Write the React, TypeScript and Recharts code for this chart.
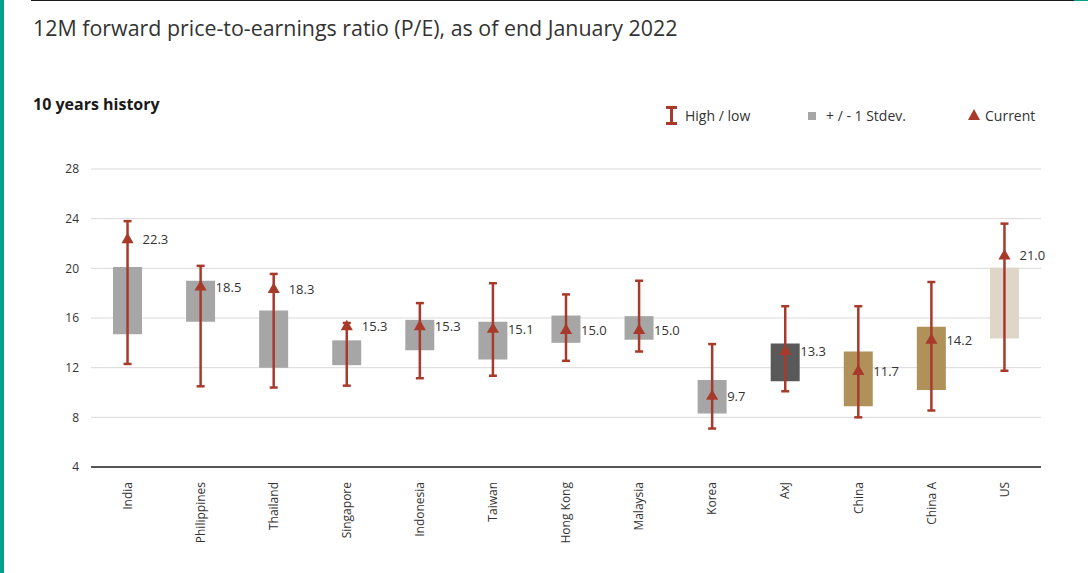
import React from 'react';
import {
  ComposedChart, Bar, Scatter, XAxis, YAxis, CartesianGrid, ErrorBar, Cell, LabelList,
} from 'recharts';

const categories = ['India', 'Philippines', 'Thailand', 'Singapore', 'Indonesia', 'Taiwan', 'Hong Kong', 'Malaysia', 'Korea', 'AxJ', 'China', 'China A', 'US'];
const highValues = [23.8, 20.2, 19.55, 15.6, 17.2, 18.8, 17.9, 19.0, 13.9, 16.95, 16.95, 18.9, 23.6];
const lowValues = [12.3, 10.5, 10.4, 10.55, 11.15, 11.35, 12.55, 13.3, 7.1, 10.1, 8.0, 8.55, 11.75];
const stdevUpper = [20.1, 19.0, 16.6, 14.2, 15.85, 15.7, 16.2, 16.15, 11.0, 13.95, 13.3, 15.3, 20.05];
const stdevLower = [14.7, 15.7, 12.0, 12.2, 13.4, 12.65, 14.0, 14.25, 8.3, 10.9, 8.9, 10.2, 14.35];
const currentValues = [22.3, 18.5, 18.3, 15.3, 15.3, 15.1, 15.0, 15.0, 9.7, 13.3, 11.7, 14.2, 21.0];
const yTicks = [4, 8, 12, 16, 20, 24, 28];

const BOX_COLORS = ['#a6a6a6', '#a6a6a6', '#a6a6a6', '#a6a6a6', '#a6a6a6', '#a6a6a6', '#a6a6a6', '#a6a6a6', '#a6a6a6', '#595959', '#b0915a', '#b0915a', '#e0d5c9'];
const RED = '#a83a2b';
const FONT = '"Open Sans", "Noto Sans", sans-serif';

const data = categories.map((name, i) => ({
  name,
  box: [stdevLower[i], stdevUpper[i]],
  current: currentValues[i],
  err: [currentValues[i] - lowValues[i], highValues[i] - currentValues[i]],
}));

const XTick = (props: any) => {
  const { x, y, payload } = props;
  return (
    <text
      x={0}
      y={0}
      transform={`translate(${x},${y + 7}) rotate(-90)`}
      textAnchor="end"
      dy="0.35em"
      fontSize={12}
      fill="#333"
      fontFamily={FONT}
    >
      {payload.value}
    </text>
  );
};

const ValueLabel = (props: any) => {
  const { x, y, width, height, value } = props;
  const cx = x + width / 2;
  const cy = y + height / 2;
  return (
    <text x={cx + 15} y={cy} dy="0.35em" fontSize={13} fill="#333" fontFamily={FONT}>
      {Number(value).toFixed(1)}
    </text>
  );
};

export default function App() {
  return (
    <div style={{ position: 'absolute', left: 0, top: 0, width: 1088, height: 573, background: '#fff', fontFamily: FONT, overflow: 'hidden' }}>
      <div style={{ position: 'absolute', left: 0, top: 0, width: 4, height: 573, background: '#00a08f' }} />
      <div style={{ position: 'absolute', left: 31, top: 0, width: 1043, height: 1, background: '#1b1b1b' }} />
      <div style={{ position: 'absolute', left: 1074, top: 0, width: 14, height: 1, background: '#00a08f' }} />
      <div style={{ position: 'absolute', left: 33, top: 13, fontSize: 21.4, color: '#333', whiteSpace: 'nowrap' }}>
        12M forward price-to-earnings ratio (P/E), as of end January 2022
      </div>
      <div style={{ position: 'absolute', left: 33, top: 93, fontSize: 16, fontWeight: 700, color: '#1a1a1a', whiteSpace: 'nowrap' }}>
        10 years history
      </div>
      <div style={{ position: 'absolute', left: 0, top: 0 }}>
        <ComposedChart width={1088} height={573} data={data} margin={{ top: 169, right: 47, bottom: 0, left: 0 }}>
          <CartesianGrid vertical={false} stroke="#d9d9d9" />
          <XAxis
            dataKey="name"
            type="category"
            height={106}
            tick={<XTick />}
            tickLine={false}
            axisLine={{ stroke: '#555', strokeWidth: 2 }}
            interval={0}
          />
          <YAxis
            type="number"
            domain={[4, 28]}
            ticks={yTicks}
            width={91}
            axisLine={false}
            tickLine={false}
            tickMargin={6}
            tick={{ fontSize: 12, fill: '#333', fontFamily: FONT }}
          />
          <Bar dataKey="box" barSize={29} isAnimationActive={false}>
            {data.map((d, i) => (
              <Cell key={d.name} fill={BOX_COLORS[i]} />
            ))}
          </Bar>
          <Scatter dataKey="current" fill={RED} shape="triangle" isAnimationActive={false}>
            <ErrorBar dataKey="err" direction="y" width={4} stroke={RED} strokeWidth={2.5} />
            <LabelList dataKey="current" content={<ValueLabel />} />
          </Scatter>
        </ComposedChart>
      </div>
      {/* Legend */}
      <svg style={{ position: 'absolute', left: 664, top: 105 }} width={16} height={22}>
        <rect x={2} y={1} width={11} height={3} fill={RED} />
        <rect x={6} y={1} width={3} height={19} fill={RED} />
        <rect x={2} y={17} width={11} height={3} fill={RED} />
      </svg>
      <div style={{ position: 'absolute', left: 685, top: 106, fontSize: 14, color: '#333', whiteSpace: 'nowrap' }}>High / low</div>
      <div style={{ position: 'absolute', left: 808, top: 112, width: 8, height: 8, background: '#a6a6a6' }} />
      <div style={{ position: 'absolute', left: 826, top: 106, fontSize: 14, color: '#333', whiteSpace: 'nowrap' }}>+ / - 1 Stdev.</div>
      <svg style={{ position: 'absolute', left: 968, top: 109 }} width={12} height={11}>
        <polygon points="6,0 12,11 0,11" fill={RED} />
      </svg>
      <div style={{ position: 'absolute', left: 985, top: 106, fontSize: 14, color: '#333', whiteSpace: 'nowrap' }}>Current</div>
    </div>
  );
}
